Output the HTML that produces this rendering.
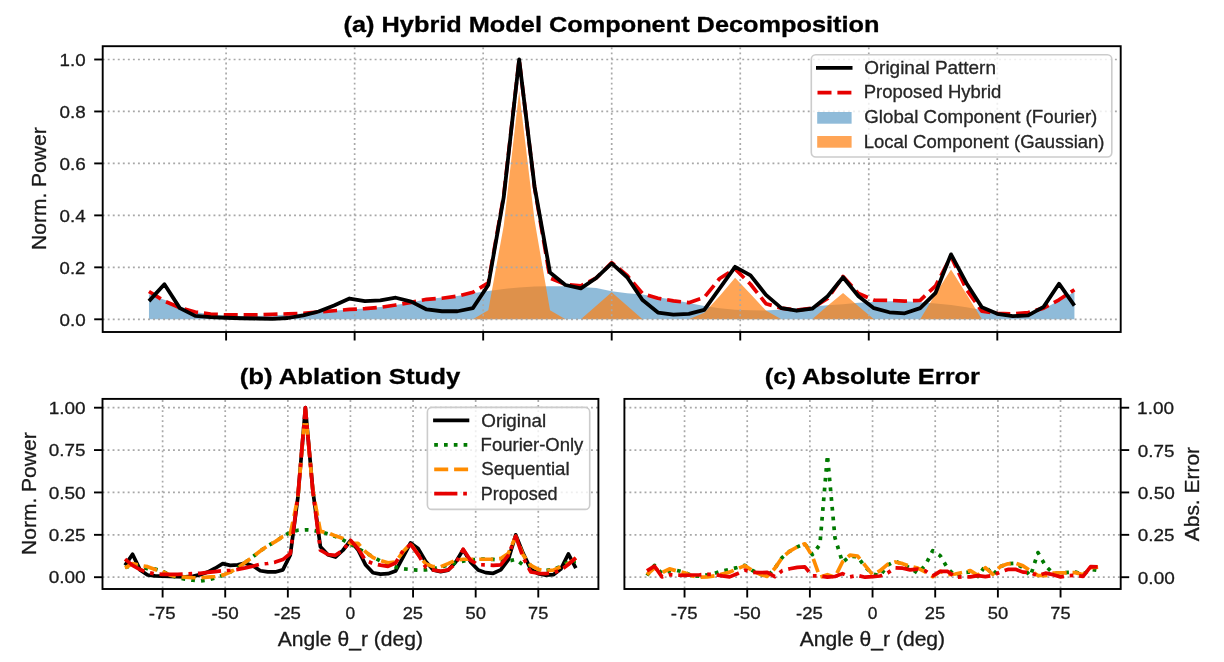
<!DOCTYPE html>
<html><head><meta charset="utf-8"><title>Hybrid Model Component Decomposition</title>
<style>html,body{margin:0;padding:0;background:#fff;overflow:hidden}svg{display:block;will-change:transform}text{font-family:"Liberation Sans",sans-serif}</style></head>
<body><svg width="1224" height="662" viewBox="0 0 1224 662">
<rect width="1224" height="662" fill="#fff"/>
<defs>
<clipPath id="clipa"><rect x="102.7" y="46.2" width="1018" height="285.8"/></clipPath>
<clipPath id="clipb"><rect x="102.5" y="398.9" width="495.9" height="190.1"/></clipPath>
<clipPath id="clipc"><rect x="624.4" y="398.9" width="496.3" height="190.1"/></clipPath>
</defs>
<polygon points="148.97,294.36 164.4,299.81 179.82,306.31 195.25,312.03 210.67,314.62 226.1,315.66 241.52,315.92 256.94,315.92 272.37,315.4 287.79,314.62 303.22,313.58 318.64,312.29 334.06,310.73 349.49,309.43 364.91,308.39 380.34,307.09 395.76,305.01 411.19,302.41 426.61,299.3 442.03,297.48 457.46,295.92 472.88,293.32 488.31,290.98 503.73,288.9 519.15,287.6 534.58,286.57 550,286.31 565.43,286.31 580.85,287.08 596.28,288.12 611.7,291.24 627.12,293.32 642.55,294.62 657.97,297.22 673.4,299.81 688.82,302.93 704.25,306.05 719.67,308.13 735.09,309.69 750.52,310.21 765.94,310.47 781.37,309.43 796.79,308.13 812.21,306.57 827.64,305.27 843.06,304.23 858.49,302.67 873.91,301.89 889.34,301.37 904.76,301.37 920.18,302.15 935.61,303.45 951.03,305.01 966.46,307.35 981.88,309.95 997.31,312.81 1012.73,315.4 1028.15,314.1 1043.58,308.91 1059,300.59 1074.43,292.02 1074.43,319.3 148.97,319.3" fill="#1f77b4" fill-opacity="0.5"/>
<polygon points="148.97,319.3 164.4,319.3 179.82,319.3 195.25,319.3 210.67,319.3 226.1,319.3 241.52,319.3 256.94,319.3 272.37,319.3 287.79,319.3 303.22,319.3 318.64,319.3 334.06,319.3 349.49,319.3 364.91,319.3 380.34,319.3 395.76,319.3 411.19,319.3 426.61,319.3 442.03,319.3 457.46,319.3 472.88,319.3 488.31,310.21 503.73,225.77 519.15,91.2 534.58,220.58 550,310.21 565.43,319.3 580.85,319.3 596.28,305.79 611.7,292.28 627.12,305.79 642.55,319.3 657.97,319.3 673.4,319.3 688.82,319.3 704.25,312.81 719.67,295.92 735.09,277.73 750.52,294.1 765.94,310.47 781.37,319.3 796.79,319.3 812.21,319.3 827.64,305.79 843.06,293.06 858.49,306.31 873.91,319.3 889.34,319.3 904.76,319.3 920.18,319.3 935.61,293.84 951.03,269.42 966.46,294.1 981.88,319.3 997.31,319.3 1012.73,319.3 1028.15,319.3 1043.58,319.3 1059,319.3 1074.43,319.3 1074.43,319.3 148.97,319.3" fill="#ff7f0e" fill-opacity="0.7"/>
<line x1="226.1" y1="332" x2="226.1" y2="46.2" stroke="#a8a8a8" stroke-width="1.7" stroke-dasharray="1.9 3.136" stroke-dashoffset="4.34"/>
<line x1="354.63" y1="332" x2="354.63" y2="46.2" stroke="#a8a8a8" stroke-width="1.7" stroke-dasharray="1.9 3.136" stroke-dashoffset="4.34"/>
<line x1="483.17" y1="332" x2="483.17" y2="46.2" stroke="#a8a8a8" stroke-width="1.7" stroke-dasharray="1.9 3.136" stroke-dashoffset="4.34"/>
<line x1="611.7" y1="332" x2="611.7" y2="46.2" stroke="#a8a8a8" stroke-width="1.7" stroke-dasharray="1.9 3.136" stroke-dashoffset="4.34"/>
<line x1="740.24" y1="332" x2="740.24" y2="46.2" stroke="#a8a8a8" stroke-width="1.7" stroke-dasharray="1.9 3.136" stroke-dashoffset="4.34"/>
<line x1="868.77" y1="332" x2="868.77" y2="46.2" stroke="#a8a8a8" stroke-width="1.7" stroke-dasharray="1.9 3.136" stroke-dashoffset="4.34"/>
<line x1="997.31" y1="332" x2="997.31" y2="46.2" stroke="#a8a8a8" stroke-width="1.7" stroke-dasharray="1.9 3.136" stroke-dashoffset="4.34"/>
<line x1="102.7" y1="319.3" x2="1120.7" y2="319.3" stroke="#a8a8a8" stroke-width="1.7" stroke-dasharray="1.9 3.136"/>
<line x1="102.7" y1="267.34" x2="1120.7" y2="267.34" stroke="#a8a8a8" stroke-width="1.7" stroke-dasharray="1.9 3.136"/>
<line x1="102.7" y1="215.38" x2="1120.7" y2="215.38" stroke="#a8a8a8" stroke-width="1.7" stroke-dasharray="1.9 3.136"/>
<line x1="102.7" y1="163.42" x2="1120.7" y2="163.42" stroke="#a8a8a8" stroke-width="1.7" stroke-dasharray="1.9 3.136"/>
<line x1="102.7" y1="111.46" x2="1120.7" y2="111.46" stroke="#a8a8a8" stroke-width="1.7" stroke-dasharray="1.9 3.136"/>
<line x1="102.7" y1="59.5" x2="1120.7" y2="59.5" stroke="#a8a8a8" stroke-width="1.7" stroke-dasharray="1.9 3.136"/>
<polyline points="148.97,291.5 164.4,301.11 179.82,307.61 195.25,312.03 210.67,314.1 226.1,314.88 241.52,314.88 256.94,314.88 272.37,314.36 287.79,313.84 303.22,313.32 318.64,312.03 334.06,310.73 349.49,309.43 364.91,308.65 380.34,307.35 395.76,305.01 411.19,302.41 426.61,299.3 442.03,298.26 457.46,296.18 472.88,292.28 488.31,282.93 503.73,195.38 519.15,59.5 534.58,187.84 550,277.99 565.43,284.49 580.85,285.79 596.28,277.99 611.7,262.66 627.12,275.39 642.55,293.58 657.97,298.26 673.4,300.85 688.82,302.67 704.25,297.48 719.67,278.51 735.09,268.9 750.52,284.23 765.94,303.71 781.37,308.13 796.79,310.21 812.21,308.13 827.64,298.52 843.06,276.43 858.49,293.58 873.91,300.07 889.34,300.33 904.76,301.11 920.18,300.33 935.61,285.79 951.03,256.43 966.46,289.42 981.88,311.25 997.31,313.32 1012.73,313.84 1028.15,312.55 1043.58,308.13 1059,299.81 1074.43,289.68" fill="none" stroke="#e60000" stroke-width="3.7" stroke-linejoin="round" stroke-linecap="butt" stroke-dasharray="14 5.9" clip-path="url(#clipa)"/>
<polyline points="148.97,301.11 164.4,284.23 179.82,308.13 195.25,315.92 210.67,317.22 226.1,317.74 241.52,318.26 256.94,318.52 272.37,318.78 287.79,318 303.22,315.4 318.64,311.51 334.06,305.53 349.49,298.52 364.91,301.11 380.34,300.33 395.76,297.74 411.19,301.63 426.61,309.43 442.03,311.25 457.46,311.25 472.88,308.13 488.31,285.01 503.73,197.19 519.15,59.5 534.58,186.8 550,272.54 565.43,285.01 580.85,288.38 596.28,277.99 611.7,263.44 627.12,277.21 642.55,300.07 657.97,312.55 673.4,314.62 688.82,313.84 704.25,309.95 719.67,288.38 735.09,266.82 750.52,275.39 765.94,294.88 781.37,308.13 796.79,310.73 812.21,308.65 827.64,296.18 843.06,277.21 858.49,296.18 873.91,308.13 889.34,312.29 904.76,313.32 920.18,308.13 935.61,292.8 951.03,254.35 966.46,283.19 981.88,307.35 997.31,313.84 1012.73,316.18 1028.15,315.4 1043.58,306.83 1059,283.71 1074.43,305.53" fill="none" stroke="#000000" stroke-width="3.8" stroke-linejoin="round" stroke-linecap="butt" clip-path="url(#clipa)"/>
<rect x="102.7" y="46.2" width="1018" height="285.8" fill="none" stroke="#000" stroke-width="1.9" stroke-linejoin="miter"/>
<line x1="226.1" y1="332" x2="226.1" y2="340.5" stroke="#000" stroke-width="1.9"/>
<line x1="354.63" y1="332" x2="354.63" y2="340.5" stroke="#000" stroke-width="1.9"/>
<line x1="483.17" y1="332" x2="483.17" y2="340.5" stroke="#000" stroke-width="1.9"/>
<line x1="611.7" y1="332" x2="611.7" y2="340.5" stroke="#000" stroke-width="1.9"/>
<line x1="740.24" y1="332" x2="740.24" y2="340.5" stroke="#000" stroke-width="1.9"/>
<line x1="868.77" y1="332" x2="868.77" y2="340.5" stroke="#000" stroke-width="1.9"/>
<line x1="997.31" y1="332" x2="997.31" y2="340.5" stroke="#000" stroke-width="1.9"/>
<line x1="94.2" y1="319.3" x2="102.7" y2="319.3" stroke="#000" stroke-width="1.9"/>
<line x1="94.2" y1="267.34" x2="102.7" y2="267.34" stroke="#000" stroke-width="1.9"/>
<line x1="94.2" y1="215.38" x2="102.7" y2="215.38" stroke="#000" stroke-width="1.9"/>
<line x1="94.2" y1="163.42" x2="102.7" y2="163.42" stroke="#000" stroke-width="1.9"/>
<line x1="94.2" y1="111.46" x2="102.7" y2="111.46" stroke="#000" stroke-width="1.9"/>
<line x1="94.2" y1="59.5" x2="102.7" y2="59.5" stroke="#000" stroke-width="1.9"/>
<text x="59.58" y="325.6" font-size="17.1" font-weight="normal" textLength="26.1" lengthAdjust="spacingAndGlyphs" fill="#1a1a1a" stroke="#1a1a1a" stroke-width="0.3">0.0</text>
<text x="59.6" y="273.64" font-size="17.1" font-weight="normal" textLength="25.71" lengthAdjust="spacingAndGlyphs" fill="#1a1a1a" stroke="#1a1a1a" stroke-width="0.3">0.2</text>
<text x="59.58" y="221.68" font-size="17.1" font-weight="normal" textLength="26.09" lengthAdjust="spacingAndGlyphs" fill="#1a1a1a" stroke="#1a1a1a" stroke-width="0.3">0.4</text>
<text x="59.58" y="169.72" font-size="17.1" font-weight="normal" textLength="26.26" lengthAdjust="spacingAndGlyphs" fill="#1a1a1a" stroke="#1a1a1a" stroke-width="0.3">0.6</text>
<text x="59.58" y="117.76" font-size="17.1" font-weight="normal" textLength="26.15" lengthAdjust="spacingAndGlyphs" fill="#1a1a1a" stroke="#1a1a1a" stroke-width="0.3">0.8</text>
<text x="59.64" y="65.8" font-size="17.1" font-weight="normal" textLength="26.04" lengthAdjust="spacingAndGlyphs" fill="#1a1a1a" stroke="#1a1a1a" stroke-width="0.3">1.0</text>
<text transform="translate(45.8,249.94) rotate(-90)" x="0" y="0" font-size="20" font-weight="normal" textLength="122.58" lengthAdjust="spacingAndGlyphs" fill="#1a1a1a" stroke="#1a1a1a" stroke-width="0.3">Norm. Power</text>
<text x="343.59" y="31.8" font-size="22.57" font-weight="bold" textLength="535.93" lengthAdjust="spacingAndGlyphs" fill="#000" stroke="#000" stroke-width="0.3">(a) Hybrid Model Component Decomposition</text>
<rect x="811.3" y="54.8" width="300.5" height="102.2" rx="4.5" ry="4.5" fill="#fff" fill-opacity="0.8" stroke="#cccccc" stroke-width="1.6"/>
<line x1="816" y1="67.9" x2="852.5" y2="67.9" stroke="#000" stroke-width="3.8"/>
<line x1="817.5" y1="92.6" x2="852.5" y2="92.6" stroke="#e60000" stroke-width="3.7" stroke-dasharray="14 5.9"/>
<rect x="817.2" y="112" width="34.4" height="11.7" fill="#1f77b4" fill-opacity="0.5"/>
<rect x="817.2" y="136" width="34.4" height="11.7" fill="#ff7f0e" fill-opacity="0.7"/>
<text x="864.35" y="73.9" font-size="17.59" font-weight="normal" textLength="131.64" lengthAdjust="spacingAndGlyphs" fill="#262626" stroke="#262626" stroke-width="0.3">Original Pattern</text>
<text x="863.73" y="98.45" font-size="17.59" font-weight="normal" textLength="137.66" lengthAdjust="spacingAndGlyphs" fill="#262626" stroke="#262626" stroke-width="0.3">Proposed Hybrid</text>
<text x="864.31" y="123" font-size="17.59" font-weight="normal" textLength="233.05" lengthAdjust="spacingAndGlyphs" fill="#262626" stroke="#262626" stroke-width="0.3">Global Component (Fourier)</text>
<text x="863.73" y="147.55" font-size="17.59" font-weight="normal" textLength="240.8" lengthAdjust="spacingAndGlyphs" fill="#262626" stroke="#262626" stroke-width="0.3">Local Component (Gaussian)</text>
<line x1="162.61" y1="589" x2="162.61" y2="398.9" stroke="#a8a8a8" stroke-width="1.7" stroke-dasharray="1.9 3.136" stroke-dashoffset="4.34"/>
<line x1="225.22" y1="589" x2="225.22" y2="398.9" stroke="#a8a8a8" stroke-width="1.7" stroke-dasharray="1.9 3.136" stroke-dashoffset="4.34"/>
<line x1="287.84" y1="589" x2="287.84" y2="398.9" stroke="#a8a8a8" stroke-width="1.7" stroke-dasharray="1.9 3.136" stroke-dashoffset="4.34"/>
<line x1="350.45" y1="589" x2="350.45" y2="398.9" stroke="#a8a8a8" stroke-width="1.7" stroke-dasharray="1.9 3.136" stroke-dashoffset="4.34"/>
<line x1="413.06" y1="589" x2="413.06" y2="398.9" stroke="#a8a8a8" stroke-width="1.7" stroke-dasharray="1.9 3.136" stroke-dashoffset="4.34"/>
<line x1="475.68" y1="589" x2="475.68" y2="398.9" stroke="#a8a8a8" stroke-width="1.7" stroke-dasharray="1.9 3.136" stroke-dashoffset="4.34"/>
<line x1="538.29" y1="589" x2="538.29" y2="398.9" stroke="#a8a8a8" stroke-width="1.7" stroke-dasharray="1.9 3.136" stroke-dashoffset="4.34"/>
<line x1="102.5" y1="577.2" x2="598.4" y2="577.2" stroke="#a8a8a8" stroke-width="1.7" stroke-dasharray="1.9 3.136"/>
<line x1="102.5" y1="534.83" x2="598.4" y2="534.83" stroke="#a8a8a8" stroke-width="1.7" stroke-dasharray="1.9 3.136"/>
<line x1="102.5" y1="492.45" x2="598.4" y2="492.45" stroke="#a8a8a8" stroke-width="1.7" stroke-dasharray="1.9 3.136"/>
<line x1="102.5" y1="450.08" x2="598.4" y2="450.08" stroke="#a8a8a8" stroke-width="1.7" stroke-dasharray="1.9 3.136"/>
<line x1="102.5" y1="407.7" x2="598.4" y2="407.7" stroke="#a8a8a8" stroke-width="1.7" stroke-dasharray="1.9 3.136"/>
<polyline points="125.04,565.34 132.56,554.32 140.07,569.91 147.59,575 155.1,575.84 162.61,576.18 170.13,576.52 177.64,576.69 185.15,576.86 192.67,576.35 200.18,574.66 207.69,572.12 215.21,568.22 222.72,563.64 230.23,565.34 237.75,564.83 245.26,563.13 252.77,565.67 260.29,570.76 267.8,571.95 275.31,571.95 282.83,569.91 290.34,554.83 297.86,497.54 305.37,407.7 312.88,490.76 320.4,546.69 327.91,554.83 335.42,557.03 342.94,550.25 350.45,540.76 357.96,549.74 365.48,564.66 372.99,572.79 380.5,574.15 388.02,573.64 395.53,571.1 403.04,557.03 410.56,542.96 418.07,548.55 425.58,561.27 433.1,569.91 440.61,571.61 448.13,570.25 455.64,562.11 463.15,549.74 470.67,562.11 478.18,569.91 485.69,572.62 493.21,573.3 500.72,569.91 508.23,559.91 515.75,534.83 523.26,553.64 530.77,569.4 538.29,573.64 545.8,575.17 553.31,574.66 560.83,569.06 568.34,553.98 575.86,568.22" fill="none" stroke="#000000" stroke-width="3.7" stroke-linejoin="round" stroke-linecap="butt" clip-path="url(#clipb)"/>
<polyline points="125.04,567.03 132.56,566.18 140.07,566.18 147.59,568.73 155.1,569.06 162.61,571.27 170.13,575.17 177.64,577.71 185.15,579.23 192.67,580.25 200.18,580.93 207.69,579.91 215.21,577.88 222.72,575.5 230.23,572.12 237.75,567.88 245.26,562.28 252.77,556.86 260.29,550.93 267.8,545.84 275.31,541.61 282.83,536.52 290.34,532.28 297.86,530.25 305.37,529.74 312.88,530.25 320.4,531.77 327.91,533.98 335.42,536.52 342.94,539.91 350.45,544.15 357.96,548.38 365.48,552.62 372.99,556.86 380.5,561.1 388.02,564.49 395.53,567.03 403.04,568.73 410.56,569.57 418.07,570.08 425.58,569.91 433.1,568.73 440.61,567.03 448.13,565 455.64,562.79 463.15,561.1 470.67,559.91 478.18,559.23 485.69,559.06 493.21,559.4 500.72,560.25 508.23,561.1 515.75,559.4 523.26,565 530.77,565.34 538.29,569.57 545.8,570.42 553.31,569.57 560.83,566.18 568.34,561.95 575.86,561.44" fill="none" stroke="#007a00" stroke-width="3.7" stroke-linejoin="round" stroke-linecap="butt" stroke-dasharray="3.7 6.1" clip-path="url(#clipb)"/>
<polyline points="125.04,567.88 132.56,563.64 140.07,565.34 147.59,566.69 155.1,569.57 162.61,571.78 170.13,575.17 177.64,576.69 185.15,577.2 192.67,577.71 200.18,577.88 207.69,577.2 215.21,576.52 222.72,575.17 230.23,572.12 237.75,567.88 245.26,562.28 252.77,556.86 260.29,550.93 267.8,545.84 275.31,541.61 282.83,536.52 290.34,533.98 297.86,497.54 305.37,410.24 312.88,490.76 320.4,531.44 327.91,532.79 335.42,535.84 342.94,538.38 350.45,543.3 357.96,543.3 365.48,551.78 372.99,557.54 380.5,560.59 388.02,562.79 395.53,561.95 403.04,551.78 410.56,543.47 418.07,554.49 425.58,563.64 433.1,566.69 440.61,566.69 448.13,563.64 455.64,560.25 463.15,559.23 470.67,559.23 478.18,559.23 485.69,559.23 493.21,559.23 500.72,558.56 508.23,553.47 515.75,536.52 523.26,555.17 530.77,565.34 538.29,569.4 545.8,570.76 553.31,570.08 560.83,566.69 568.34,563.64 575.86,558.05" fill="none" stroke="#ff8c00" stroke-width="3.7" stroke-linejoin="round" stroke-linecap="butt" stroke-dasharray="14 5.9" clip-path="url(#clipb)"/>
<polyline points="125.04,559.06 132.56,565.34 140.07,569.57 147.59,572.45 155.1,573.81 162.61,574.32 170.13,574.32 177.64,574.32 185.15,573.98 192.67,573.64 200.18,573.3 207.69,572.45 215.21,571.61 222.72,570.76 230.23,570.25 237.75,569.4 245.26,567.88 252.77,566.18 260.29,564.15 267.8,563.47 275.31,562.11 282.83,559.57 290.34,553.47 297.86,496.35 305.37,407.7 312.88,491.43 320.4,550.25 327.91,554.49 335.42,555.33 342.94,550.25 350.45,540.25 357.96,548.55 365.48,560.42 372.99,563.47 380.5,565.17 388.02,566.35 395.53,562.96 403.04,550.59 410.56,544.32 418.07,554.32 425.58,567.03 433.1,569.91 440.61,571.27 448.13,569.91 455.64,563.64 463.15,549.23 470.67,560.42 478.18,564.66 485.69,564.83 493.21,565.34 500.72,564.83 508.23,555.33 515.75,536.18 523.26,557.71 530.77,571.95 538.29,573.3 545.8,573.64 553.31,572.79 560.83,569.91 568.34,564.49 575.86,557.88" fill="none" stroke="#e60000" stroke-width="3.7" stroke-linejoin="round" stroke-linecap="butt" stroke-dasharray="23.2 5.8 3.7 5.8" clip-path="url(#clipb)"/>
<rect x="102.5" y="398.9" width="495.9" height="190.1" fill="none" stroke="#000" stroke-width="1.9" stroke-linejoin="miter"/>
<line x1="162.61" y1="589" x2="162.61" y2="597.5" stroke="#000" stroke-width="1.9"/>
<line x1="225.22" y1="589" x2="225.22" y2="597.5" stroke="#000" stroke-width="1.9"/>
<line x1="287.84" y1="589" x2="287.84" y2="597.5" stroke="#000" stroke-width="1.9"/>
<line x1="350.45" y1="589" x2="350.45" y2="597.5" stroke="#000" stroke-width="1.9"/>
<line x1="413.06" y1="589" x2="413.06" y2="597.5" stroke="#000" stroke-width="1.9"/>
<line x1="475.68" y1="589" x2="475.68" y2="597.5" stroke="#000" stroke-width="1.9"/>
<line x1="538.29" y1="589" x2="538.29" y2="597.5" stroke="#000" stroke-width="1.9"/>
<line x1="94" y1="577.2" x2="102.5" y2="577.2" stroke="#000" stroke-width="1.9"/>
<line x1="94" y1="534.83" x2="102.5" y2="534.83" stroke="#000" stroke-width="1.9"/>
<line x1="94" y1="492.45" x2="102.5" y2="492.45" stroke="#000" stroke-width="1.9"/>
<line x1="94" y1="450.08" x2="102.5" y2="450.08" stroke="#000" stroke-width="1.9"/>
<line x1="94" y1="407.7" x2="102.5" y2="407.7" stroke="#000" stroke-width="1.9"/>
<text x="48.7" y="583.4" font-size="17.1" font-weight="normal" textLength="37" lengthAdjust="spacingAndGlyphs" fill="#1a1a1a" stroke="#1a1a1a" stroke-width="0.3">0.00</text>
<text x="48.7" y="541.03" font-size="17.1" font-weight="normal" textLength="36.68" lengthAdjust="spacingAndGlyphs" fill="#1a1a1a" stroke="#1a1a1a" stroke-width="0.3">0.25</text>
<text x="48.7" y="498.65" font-size="17.1" font-weight="normal" textLength="37" lengthAdjust="spacingAndGlyphs" fill="#1a1a1a" stroke="#1a1a1a" stroke-width="0.3">0.50</text>
<text x="48.7" y="456.28" font-size="17.1" font-weight="normal" textLength="36.68" lengthAdjust="spacingAndGlyphs" fill="#1a1a1a" stroke="#1a1a1a" stroke-width="0.3">0.75</text>
<text x="48.74" y="413.9" font-size="17.1" font-weight="normal" textLength="36.95" lengthAdjust="spacingAndGlyphs" fill="#1a1a1a" stroke="#1a1a1a" stroke-width="0.3">1.00</text>
<text x="148.81" y="618.8" font-size="17.1" font-weight="normal" textLength="26.91" lengthAdjust="spacingAndGlyphs" fill="#1a1a1a" stroke="#1a1a1a" stroke-width="0.3">-75</text>
<text x="211.41" y="618.8" font-size="17.1" font-weight="normal" textLength="27.23" lengthAdjust="spacingAndGlyphs" fill="#1a1a1a" stroke="#1a1a1a" stroke-width="0.3">-50</text>
<text x="274.03" y="618.8" font-size="17.1" font-weight="normal" textLength="26.91" lengthAdjust="spacingAndGlyphs" fill="#1a1a1a" stroke="#1a1a1a" stroke-width="0.3">-25</text>
<text x="345.61" y="618.8" font-size="17.1" font-weight="normal" textLength="9.68" lengthAdjust="spacingAndGlyphs" fill="#1a1a1a" stroke="#1a1a1a" stroke-width="0.3">0</text>
<text x="402.66" y="618.8" font-size="17.1" font-weight="normal" textLength="20.41" lengthAdjust="spacingAndGlyphs" fill="#1a1a1a" stroke="#1a1a1a" stroke-width="0.3">25</text>
<text x="465.53" y="618.8" font-size="17.1" font-weight="normal" textLength="20.46" lengthAdjust="spacingAndGlyphs" fill="#1a1a1a" stroke="#1a1a1a" stroke-width="0.3">50</text>
<text x="528.03" y="618.8" font-size="17.1" font-weight="normal" textLength="20.26" lengthAdjust="spacingAndGlyphs" fill="#1a1a1a" stroke="#1a1a1a" stroke-width="0.3">75</text>
<text transform="translate(35.6,554.94) rotate(-90)" x="0" y="0" font-size="20" font-weight="normal" textLength="122.58" lengthAdjust="spacingAndGlyphs" fill="#1a1a1a" stroke="#1a1a1a" stroke-width="0.3">Norm. Power</text>
<text x="277.66" y="645.5" font-size="20" font-weight="normal" textLength="145.37" lengthAdjust="spacingAndGlyphs" fill="#1a1a1a" stroke="#1a1a1a" stroke-width="0.3">Angle θ_r (deg)</text>
<text x="239.67" y="383.8" font-size="22.57" font-weight="bold" textLength="220.71" lengthAdjust="spacingAndGlyphs" fill="#000" stroke="#000" stroke-width="0.3">(b) Ablation Study</text>
<rect x="427.4" y="407.4" width="162.3" height="102" rx="4.5" ry="4.5" fill="#fff" fill-opacity="0.8" stroke="#cccccc" stroke-width="1.6"/>
<line x1="433.1" y1="420.4" x2="469.3" y2="420.4" stroke="#000" stroke-width="3.7"/>
<line x1="434.2" y1="444.9" x2="469.3" y2="444.9" stroke="#007a00" stroke-width="3.7" stroke-dasharray="3.7 6.1"/>
<line x1="434.2" y1="469.3" x2="469.3" y2="469.3" stroke="#ff8c00" stroke-width="3.7" stroke-dasharray="14 5.9"/>
<line x1="434.2" y1="493.7" x2="469.3" y2="493.7" stroke="#e60000" stroke-width="3.7" stroke-dasharray="23.2 5.8 3.7 5.8"/>
<text x="481.26" y="426.5" font-size="17.59" font-weight="normal" textLength="64.88" lengthAdjust="spacingAndGlyphs" fill="#262626" stroke="#262626" stroke-width="0.3">Original</text>
<text x="480.63" y="450.95" font-size="17.59" font-weight="normal" textLength="102.75" lengthAdjust="spacingAndGlyphs" fill="#262626" stroke="#262626" stroke-width="0.3">Fourier-Only</text>
<text x="481.3" y="475.4" font-size="17.59" font-weight="normal" textLength="88.37" lengthAdjust="spacingAndGlyphs" fill="#262626" stroke="#262626" stroke-width="0.3">Sequential</text>
<text x="480.68" y="499.85" font-size="17.59" font-weight="normal" textLength="76.95" lengthAdjust="spacingAndGlyphs" fill="#262626" stroke="#262626" stroke-width="0.3">Proposed</text>
<line x1="684.55" y1="589" x2="684.55" y2="398.9" stroke="#a8a8a8" stroke-width="1.7" stroke-dasharray="1.9 3.136" stroke-dashoffset="4.34"/>
<line x1="747.22" y1="589" x2="747.22" y2="398.9" stroke="#a8a8a8" stroke-width="1.7" stroke-dasharray="1.9 3.136" stroke-dashoffset="4.34"/>
<line x1="809.88" y1="589" x2="809.88" y2="398.9" stroke="#a8a8a8" stroke-width="1.7" stroke-dasharray="1.9 3.136" stroke-dashoffset="4.34"/>
<line x1="872.55" y1="589" x2="872.55" y2="398.9" stroke="#a8a8a8" stroke-width="1.7" stroke-dasharray="1.9 3.136" stroke-dashoffset="4.34"/>
<line x1="935.21" y1="589" x2="935.21" y2="398.9" stroke="#a8a8a8" stroke-width="1.7" stroke-dasharray="1.9 3.136" stroke-dashoffset="4.34"/>
<line x1="997.88" y1="589" x2="997.88" y2="398.9" stroke="#a8a8a8" stroke-width="1.7" stroke-dasharray="1.9 3.136" stroke-dashoffset="4.34"/>
<line x1="1060.55" y1="589" x2="1060.55" y2="398.9" stroke="#a8a8a8" stroke-width="1.7" stroke-dasharray="1.9 3.136" stroke-dashoffset="4.34"/>
<line x1="624.4" y1="577.2" x2="1120.7" y2="577.2" stroke="#a8a8a8" stroke-width="1.7" stroke-dasharray="1.9 3.136"/>
<line x1="624.4" y1="534.83" x2="1120.7" y2="534.83" stroke="#a8a8a8" stroke-width="1.7" stroke-dasharray="1.9 3.136"/>
<line x1="624.4" y1="492.45" x2="1120.7" y2="492.45" stroke="#a8a8a8" stroke-width="1.7" stroke-dasharray="1.9 3.136"/>
<line x1="624.4" y1="450.08" x2="1120.7" y2="450.08" stroke="#a8a8a8" stroke-width="1.7" stroke-dasharray="1.9 3.136"/>
<line x1="624.4" y1="407.7" x2="1120.7" y2="407.7" stroke="#a8a8a8" stroke-width="1.7" stroke-dasharray="1.9 3.136"/>
<polyline points="646.96,575.5 654.48,565.34 662,573.47 669.52,570.93 677.04,570.42 684.55,572.28 692.07,575.84 699.59,576.18 707.11,574.83 714.63,573.3 722.15,570.93 729.67,569.4 737.19,567.54 744.71,565.34 752.23,570.42 759.75,574.15 767.27,576.35 774.79,568.39 782.31,557.37 789.83,551.1 797.35,546.86 804.87,543.81 812.39,554.66 819.91,544.49 827.43,455.16 834.95,537.71 842.47,562.28 849.99,556.35 857.51,556.69 865.03,566.86 872.55,573.81 880.07,575.84 887.59,565.17 895.11,561.27 902.63,564.15 910.15,568.05 917.67,573.13 925.19,565.5 932.71,550.59 940.23,555.67 947.75,568.56 955.27,576.01 962.79,572.62 970.31,571.95 977.83,576.52 985.35,565.84 992.87,575 1000.39,566.52 1007.91,563.64 1015.43,563.3 1022.95,567.54 1030.47,576.01 1037.99,552.62 1045.51,565.84 1053.03,573.13 1060.55,573.13 1068.06,572.45 1075.58,572.12 1083.1,574.32 1090.62,569.23 1098.14,570.42" fill="none" stroke="#007a00" stroke-width="3.7" stroke-linejoin="round" stroke-linecap="butt" stroke-dasharray="3.7 6.1" clip-path="url(#clipc)"/>
<polyline points="646.96,574.66 654.48,567.88 662,572.62 669.52,568.89 677.04,570.93 684.55,572.79 692.07,575.84 699.59,577.2 707.11,576.86 714.63,575.84 722.15,573.98 729.67,572.12 737.19,568.89 744.71,565.67 752.23,570.42 759.75,574.15 767.27,576.35 774.79,568.39 782.31,557.37 789.83,551.1 797.35,546.86 804.87,543.81 812.39,556.35 819.91,577.2 827.43,574.66 834.95,577.2 842.47,561.95 849.99,555.17 857.51,556.01 865.03,565.34 872.55,574.66 880.07,570.76 887.59,564.32 895.11,561.95 902.63,563.64 910.15,566.35 917.67,568.05 925.19,571.95 932.71,576.69 940.23,571.27 947.75,574.83 955.27,573.98 962.79,572.28 970.31,570.59 977.83,575.34 985.35,567.71 992.87,574.32 1000.39,566.52 1007.91,563.81 1015.43,563.13 1022.95,565.84 1030.47,570.76 1037.99,575.5 1045.51,575.67 1053.03,573.13 1060.55,572.96 1068.06,572.79 1075.58,572.62 1083.1,574.83 1090.62,567.54 1098.14,567.03" fill="none" stroke="#ff8c00" stroke-width="3.7" stroke-linejoin="round" stroke-linecap="butt" stroke-dasharray="14 5.9" clip-path="url(#clipc)"/>
<polyline points="646.96,570.93 654.48,566.18 662,576.86 669.52,574.66 677.04,575.17 684.55,575.34 692.07,575 699.59,574.83 707.11,574.32 714.63,574.49 722.15,575.84 729.67,576.86 737.19,573.81 744.71,570.08 752.23,572.28 759.75,572.62 767.27,572.45 774.79,576.69 782.31,570.59 789.83,568.73 797.35,567.37 804.87,566.86 812.39,575.84 819.91,576.01 827.43,577.2 834.95,576.52 842.47,573.64 849.99,576.86 857.51,575.5 865.03,577.2 872.55,576.69 880.07,576.01 887.59,572.96 895.11,567.88 902.63,568.22 910.15,569.91 917.67,569.06 925.19,570.76 932.71,575.84 940.23,571.44 947.75,571.44 955.27,577.2 962.79,576.86 970.31,576.86 977.83,575.67 985.35,576.69 992.87,575.5 1000.39,571.95 1007.91,569.4 1015.43,569.23 1022.95,572.12 1030.47,572.62 1037.99,575.84 1045.51,573.13 1053.03,574.66 1060.55,576.86 1068.06,575.67 1075.58,575.34 1083.1,576.35 1090.62,566.69 1098.14,566.86" fill="none" stroke="#e60000" stroke-width="3.7" stroke-linejoin="round" stroke-linecap="butt" stroke-dasharray="23.2 5.8 3.7 5.8" clip-path="url(#clipc)"/>
<rect x="624.4" y="398.9" width="496.3" height="190.1" fill="none" stroke="#000" stroke-width="1.9" stroke-linejoin="miter"/>
<line x1="684.55" y1="589" x2="684.55" y2="597.5" stroke="#000" stroke-width="1.9"/>
<line x1="747.22" y1="589" x2="747.22" y2="597.5" stroke="#000" stroke-width="1.9"/>
<line x1="809.88" y1="589" x2="809.88" y2="597.5" stroke="#000" stroke-width="1.9"/>
<line x1="872.55" y1="589" x2="872.55" y2="597.5" stroke="#000" stroke-width="1.9"/>
<line x1="935.21" y1="589" x2="935.21" y2="597.5" stroke="#000" stroke-width="1.9"/>
<line x1="997.88" y1="589" x2="997.88" y2="597.5" stroke="#000" stroke-width="1.9"/>
<line x1="1060.55" y1="589" x2="1060.55" y2="597.5" stroke="#000" stroke-width="1.9"/>
<line x1="1120.7" y1="577.2" x2="1129.2" y2="577.2" stroke="#000" stroke-width="1.9"/>
<line x1="1120.7" y1="534.83" x2="1129.2" y2="534.83" stroke="#000" stroke-width="1.9"/>
<line x1="1120.7" y1="492.45" x2="1129.2" y2="492.45" stroke="#000" stroke-width="1.9"/>
<line x1="1120.7" y1="450.08" x2="1129.2" y2="450.08" stroke="#000" stroke-width="1.9"/>
<line x1="1120.7" y1="407.7" x2="1129.2" y2="407.7" stroke="#000" stroke-width="1.9"/>
<text x="1137.81" y="583.7" font-size="17.1" font-weight="normal" textLength="37" lengthAdjust="spacingAndGlyphs" fill="#1a1a1a" stroke="#1a1a1a" stroke-width="0.3">0.00</text>
<text x="1137.81" y="541.33" font-size="17.1" font-weight="normal" textLength="36.68" lengthAdjust="spacingAndGlyphs" fill="#1a1a1a" stroke="#1a1a1a" stroke-width="0.3">0.25</text>
<text x="1137.81" y="498.95" font-size="17.1" font-weight="normal" textLength="37" lengthAdjust="spacingAndGlyphs" fill="#1a1a1a" stroke="#1a1a1a" stroke-width="0.3">0.50</text>
<text x="1137.81" y="456.58" font-size="17.1" font-weight="normal" textLength="36.68" lengthAdjust="spacingAndGlyphs" fill="#1a1a1a" stroke="#1a1a1a" stroke-width="0.3">0.75</text>
<text x="1137.1" y="414.2" font-size="17.1" font-weight="normal" textLength="36.95" lengthAdjust="spacingAndGlyphs" fill="#1a1a1a" stroke="#1a1a1a" stroke-width="0.3">1.00</text>
<text x="670.75" y="618.8" font-size="17.1" font-weight="normal" textLength="26.91" lengthAdjust="spacingAndGlyphs" fill="#1a1a1a" stroke="#1a1a1a" stroke-width="0.3">-75</text>
<text x="733.4" y="618.8" font-size="17.1" font-weight="normal" textLength="27.23" lengthAdjust="spacingAndGlyphs" fill="#1a1a1a" stroke="#1a1a1a" stroke-width="0.3">-50</text>
<text x="796.08" y="618.8" font-size="17.1" font-weight="normal" textLength="26.91" lengthAdjust="spacingAndGlyphs" fill="#1a1a1a" stroke="#1a1a1a" stroke-width="0.3">-25</text>
<text x="867.71" y="618.8" font-size="17.1" font-weight="normal" textLength="9.68" lengthAdjust="spacingAndGlyphs" fill="#1a1a1a" stroke="#1a1a1a" stroke-width="0.3">0</text>
<text x="924.82" y="618.8" font-size="17.1" font-weight="normal" textLength="20.41" lengthAdjust="spacingAndGlyphs" fill="#1a1a1a" stroke="#1a1a1a" stroke-width="0.3">25</text>
<text x="987.73" y="618.8" font-size="17.1" font-weight="normal" textLength="20.46" lengthAdjust="spacingAndGlyphs" fill="#1a1a1a" stroke="#1a1a1a" stroke-width="0.3">50</text>
<text x="1050.28" y="618.8" font-size="17.1" font-weight="normal" textLength="20.26" lengthAdjust="spacingAndGlyphs" fill="#1a1a1a" stroke="#1a1a1a" stroke-width="0.3">75</text>
<text transform="translate(1199,541.22) rotate(-90)" x="0" y="0" font-size="20" font-weight="normal" textLength="94.29" lengthAdjust="spacingAndGlyphs" fill="#1a1a1a" stroke="#1a1a1a" stroke-width="0.3">Abs. Error</text>
<text x="799.76" y="645.5" font-size="20" font-weight="normal" textLength="145.37" lengthAdjust="spacingAndGlyphs" fill="#1a1a1a" stroke="#1a1a1a" stroke-width="0.3">Angle θ_r (deg)</text>
<text x="764.79" y="383.8" font-size="22.57" font-weight="bold" textLength="215.24" lengthAdjust="spacingAndGlyphs" fill="#000" stroke="#000" stroke-width="0.3">(c) Absolute Error</text>
</svg></body></html>
